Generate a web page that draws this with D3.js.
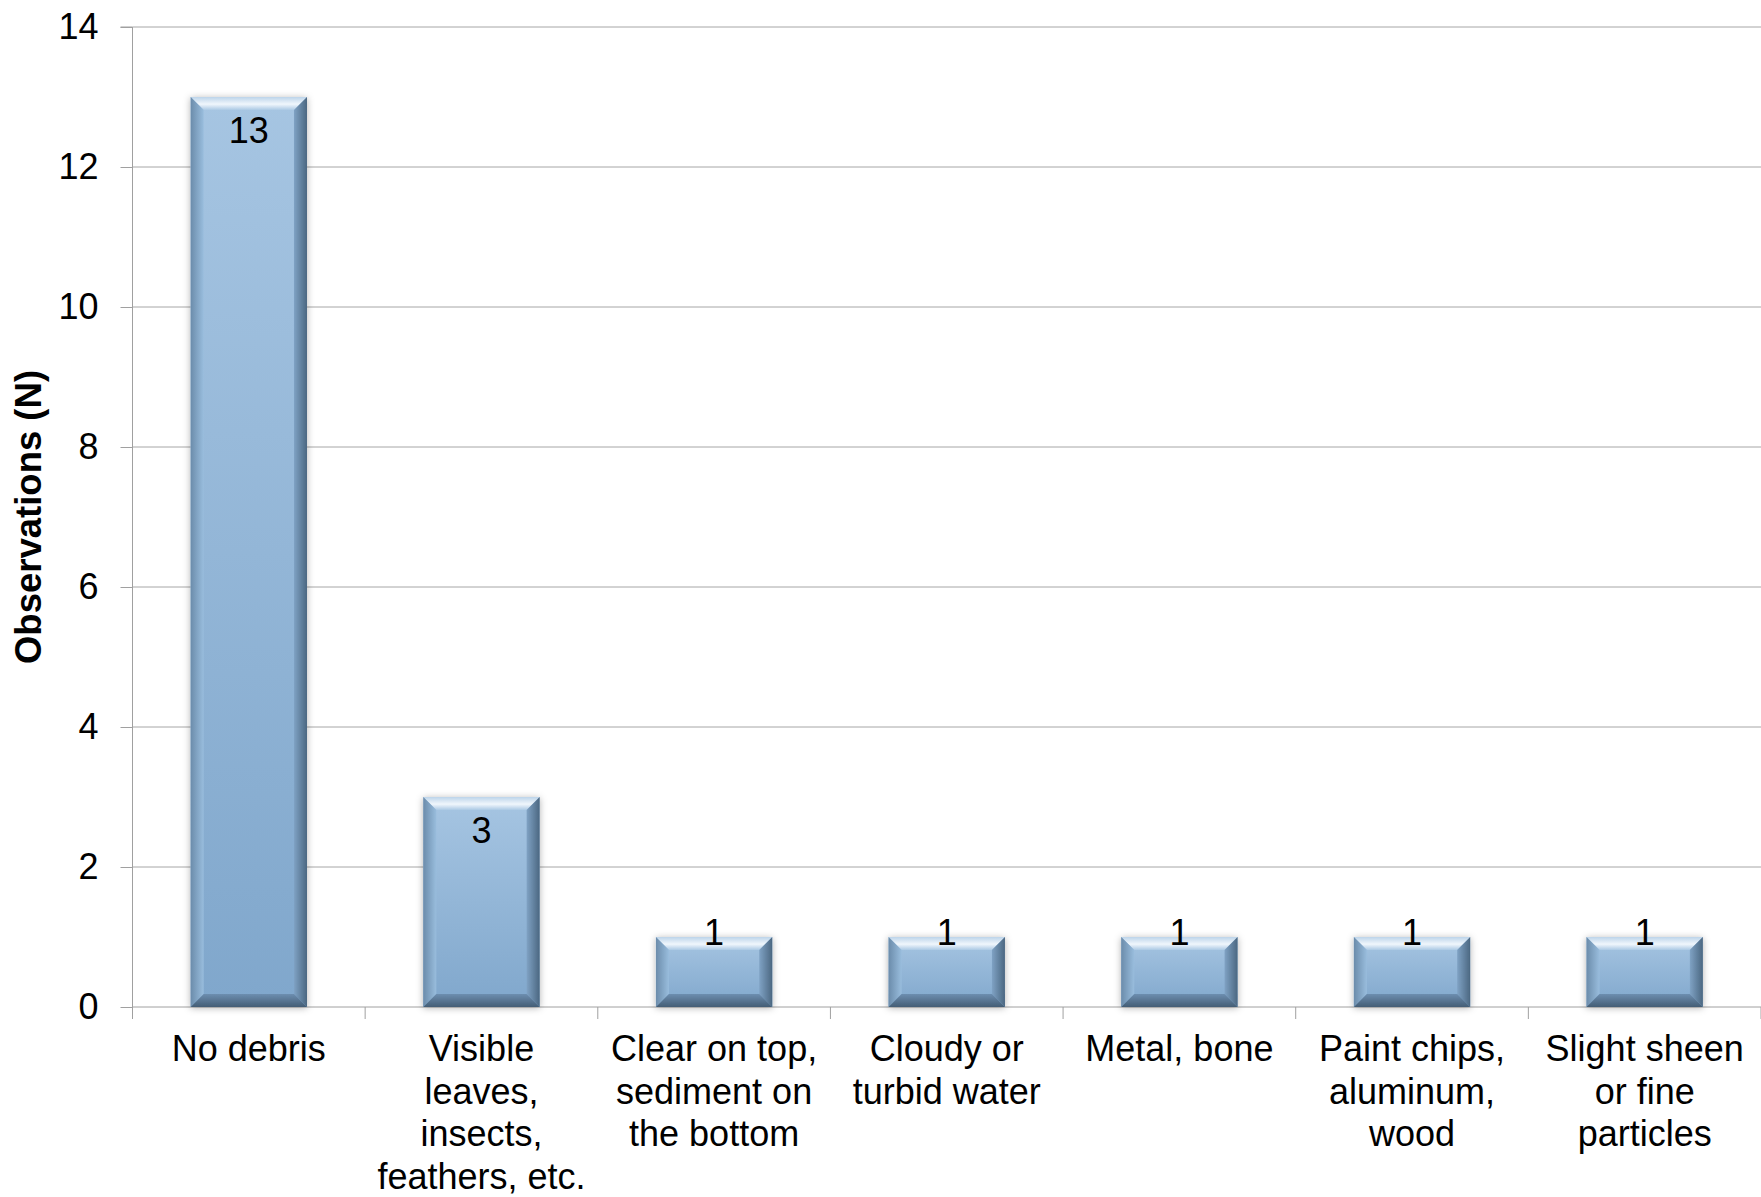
<!DOCTYPE html>
<html>
<head>
<meta charset="utf-8">
<script src="https://cdn.jsdelivr.net/npm/d3@7"></script>
<style>
  html, body { margin: 0; padding: 0; background: #fff; }
  svg { display: block; }
  text { font-family: "Liberation Sans", Arial, Helvetica, sans-serif; fill: #000; }
</style>
</head>
<body>
<svg id="chart" width="1761" height="1197"></svg>
<script>
// Observations per debris category
const categories = [
  "No debris",
  "Visible leaves, insects, feathers, etc.",
  "Clear on top, sediment on the bottom",
  "Cloudy or turbid water",
  "Metal, bone",
  "Paint chips, aluminum, wood",
  "Slight sheen or fine particles"
];
const categoryLines = [
  ["No debris"],
  ["Visible", "leaves,", "insects,", "feathers, etc."],
  ["Clear on top,", "sediment on", "the bottom"],
  ["Cloudy or", "turbid water"],
  ["Metal, bone"],
  ["Paint chips,", "aluminum,", "wood"],
  ["Slight sheen", "or fine", "particles"]
];
const observations = [13, 3, 1, 1, 1, 1, 1];
const yTicks = [0, 2, 4, 6, 8, 10, 12, 14];
const yTitle = "Observations (N)";

const W = 1761, H = 1197;
const plotLeft = 132.5, plotRight = W, plotTop = 27, plotBottom = 1007;

const svg = d3.select("#chart");
const defs = svg.append("defs");

const x = d3.scaleBand().domain(categories).range([plotLeft, plotRight])
  .paddingInner(0.5).paddingOuter(0.25);
const y = d3.scaleLinear().domain([0, 14]).range([plotBottom, plotTop]);

// gradients for the bevelled bars
function linGrad(id, x1, y1, x2, y2, stops) {
  const g = defs.append("linearGradient").attr("id", id)
    .attr("x1", x1).attr("y1", y1).attr("x2", x2).attr("y2", y2);
  stops.forEach(s => g.append("stop").attr("offset", s[0]).attr("stop-color", s[1]));
}
linGrad("face", 0, 0, 0, 1, [[0, "#a6c5e2"], [1, "#80a7cc"]]);
linGrad("bevTop", 0, 0, 0, 1, [[0, "#bcd4ea"], [0.55, "#f0f6fc"], [1, "#abc9e4"]]);
linGrad("bevLeft", 0, 0, 1, 0, [[0, "#6b8cab"], [1, "#99bddd"]]);
linGrad("bevRight", 0, 0, 1, 0, [[0, "#7fa2c4"], [1, "#4b6781"]]);
linGrad("bevBottom", 0, 0, 0, 1, [[0, "#6d8eb0"], [1, "#435d75"]]);

const shadow = defs.append("filter").attr("id", "shadow")
  .attr("x", "-20%").attr("y", "-20%").attr("width", "140%").attr("height", "140%");
shadow.append("feDropShadow").attr("dx", 0).attr("dy", 1).attr("stdDeviation", 3.5)
  .attr("flood-color", "#000").attr("flood-opacity", 0.3);

// gridlines
svg.append("g").selectAll("line").data(yTicks.filter(d => d > 0)).join("line")
  .attr("x1", plotLeft).attr("x2", plotRight)
  .attr("y1", d => y(d)).attr("y2", d => y(d))
  .attr("stroke", "#a6a6a6").attr("stroke-width", 1);

// y axis
const yAxis = svg.append("g").attr("transform", `translate(${plotLeft},0)`)
  .call(d3.axisLeft(y).tickValues(yTicks).tickSize(12).tickPadding(22));
yAxis.select(".domain").attr("stroke", "#a0a0a0").attr("d", `M-12,${plotTop}H0V${plotBottom}`);
yAxis.selectAll(".tick line").attr("stroke", "#a0a0a0");
yAxis.selectAll(".tick text").attr("font-size", 36)
  .attr("font-family", "'Liberation Sans', Arial, sans-serif").attr("fill", "#000");

// x axis baseline and category boundary ticks
const step = x.step();
const bounds = d3.range(categories.length + 1).map(i => plotLeft + i * step);
svg.append("line").attr("x1", plotLeft).attr("x2", plotRight).attr("y1", plotBottom).attr("y2", plotBottom)
  .attr("stroke", "#a0a0a0");
svg.append("g").selectAll("line").data(bounds).join("line")
  .attr("x1", d => d).attr("x2", d => d).attr("y1", plotBottom).attr("y2", plotBottom + 12)
  .attr("stroke", "#a0a0a0");

// bars
const bev = 13;
const bars = svg.append("g").selectAll("g").data(categories).join("g")
  .attr("filter", "url(#shadow)");
bars.each(function(c, i) {
  const g = d3.select(this);
  const x0 = x(c), w = x.bandwidth(), y0 = y(observations[i]), h = y(0) - y0;
  const x1 = x0 + w, y1 = y0 + h;
  g.append("rect").attr("x", x0).attr("y", y0).attr("width", w).attr("height", h)
    .attr("fill", "url(#face)");
  const poly = (pts, fill) => g.append("polygon")
    .attr("points", pts.map(p => p.join(",")).join(" ")).attr("fill", fill);
  poly([[x0, y0], [x1, y0], [x1 - bev, y0 + bev], [x0 + bev, y0 + bev]], "url(#bevTop)");
  poly([[x0, y0], [x0 + bev, y0 + bev], [x0 + bev, y1 - bev], [x0, y1]], "url(#bevLeft)");
  poly([[x1, y0], [x1, y1], [x1 - bev, y1 - bev], [x1 - bev, y0 + bev]], "url(#bevRight)");
  poly([[x0, y1], [x0 + bev, y1 - bev], [x1 - bev, y1 - bev], [x1, y1]], "url(#bevBottom)");
});

// value labels: inside the top of tall bars, just over the top of short ones
svg.append("g").selectAll("text").data(categories).join("text")
  .attr("x", c => x(c) + x.bandwidth() / 2)
  .attr("y", (c, i) => {
    const t = y(observations[i]);
    return (y(0) - t > 100) ? t + 33 : t - 5;
  })
  .attr("dy", "0.36em")
  .attr("text-anchor", "middle").attr("font-size", 36)
  .text((c, i) => observations[i]);

// category labels
const lab = svg.append("g").selectAll("text").data(categories).join("text")
  .attr("x", c => x(c) + x.bandwidth() / 2)
  .attr("y", 1061)
  .attr("text-anchor", "middle").attr("font-size", 36);
lab.each(function(c, i) {
  d3.select(this).selectAll("tspan").data(categoryLines[i]).join("tspan")
    .attr("x", x(c) + x.bandwidth() / 2)
    .attr("dy", (d, j) => j === 0 ? 0 : 42.5)
    .text(d => d);
});

// y axis title
svg.append("text")
  .attr("transform", `translate(28,517) rotate(-90)`)
  .attr("text-anchor", "middle").attr("dy", "0.36em")
  .attr("font-size", 36.5).attr("font-weight", "bold")
  .text(yTitle);
</script>
</body>
</html>
